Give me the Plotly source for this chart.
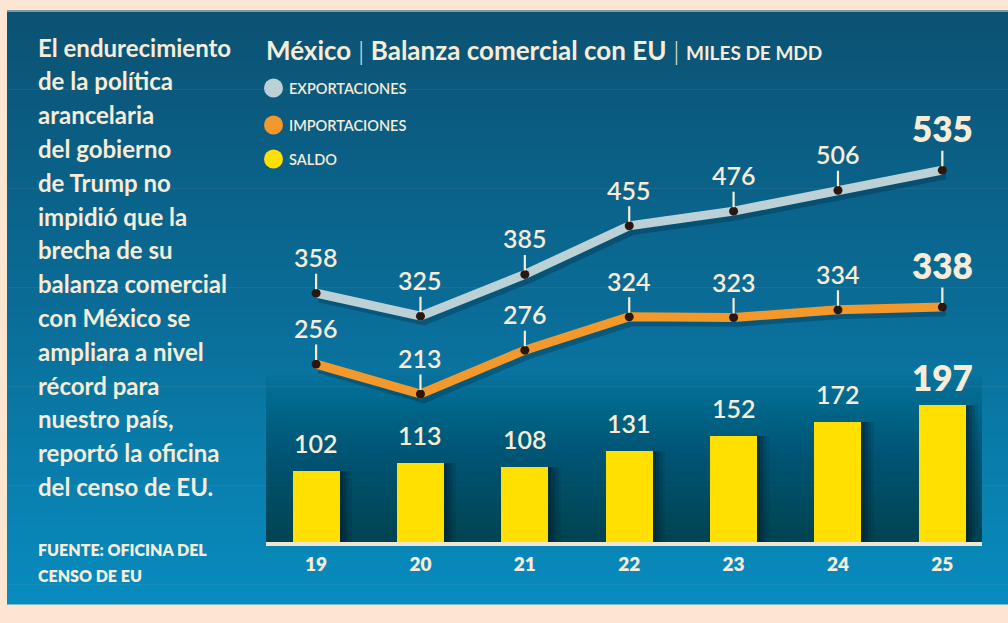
import plotly.graph_objects as go

# ---------------- data ----------------
YEARS = ["19", "20", "21", "22", "23", "24", "25"]
EXPORTACIONES = [358, 325, 385, 455, 476, 506, 535]
IMPORTACIONES = [256, 213, 276, 324, 323, 334, 338]
SALDO = [102, 113, 108, 131, 152, 172, 197]

TITLE_MAIN = "México"
TITLE_SUB = "Balanza comercial con EU"
TITLE_UNIT = "MILES DE MDD"
LEGEND_NAMES = ["EXPORTACIONES", "IMPORTACIONES", "SALDO"]
SIDE_TEXT = [
    "El endurecimiento", "de la política", "arancelaria", "del gobierno",
    "de Trump no", "impidió que la", "brecha de su", "balanza comercial",
    "con México se", "ampliara a nivel", "récord para", "nuestro país,",
    "reportó la oficina", "del censo de EU.",
]
SOURCE_TEXT = ["FUENTE: OFICINA DEL", "CENSO DE EU"]

# ---------------- styling ----------------
WIDTH, HEIGHT = 1008, 623
L, R, T, B = 266, 982, 30, 542          # plot area in pixels
PW, PH = R - L, B - T
YMAX = PH / 0.695
FONT = "Lato"
CREAM = "#f6ecd8"
C_EXP = "#bcd1d5"
C_IMP = "#f3982b"
C_SAL = "#ffe000"
DOT = "#2a1810"

def xp(p):
    return (p - L) / PW

def yp(p):
    return (B - p) / PH

x = list(range(len(YEARS)))
fig = go.Figure()

# ---------------- background shapes ----------------
shapes = []
shapes.append(dict(type="rect", xref="paper", yref="paper", x0=xp(-5), x1=xp(WIDTH + 5),
                   y0=yp(HEIGHT + 5), y1=yp(-5), fillcolor="#fde6d1", line_width=0, layer="below"))
stops = [(10, (11, 82, 115)), (300, (10, 108, 150)), (604, (8, 140, 191))]
def bgcol(py):
    for (ya, ca), (yb, cb) in zip(stops[:-1], stops[1:]):
        if ya <= py <= yb:
            t = (py - ya) / (yb - ya)
            return tuple(round(ca[i] + (cb[i] - ca[i]) * t) for i in range(3))
    return stops[-1][1]
N = 60
for i in range(N):
    y0 = 10 + (604 - 10) * i / N
    y1 = 10 + (604 - 10) * (i + 1) / N
    c = bgcol((y0 + y1) / 2)
    shapes.append(dict(type="rect", xref="paper", yref="paper", x0=xp(7), x1=xp(WIDTH + 5),
                       y0=yp(y1 + 0.6), y1=yp(y0), fillcolor="rgb(%d,%d,%d)" % c,
                       line_width=0, layer="below"))
shapes.append(dict(type="rect", xref="paper", yref="paper", x0=xp(7), x1=xp(WIDTH + 5),
                   y0=yp(12), y1=yp(10), fillcolor="#7f9aa3", line_width=0, layer="below"))
# dark band behind bars: stacked translucent rects from the baseline (seamless gradient)
NB = 40
for i in range(NB):
    top = 372 + (B - 372) * i / NB
    shapes.append(dict(type="rect", xref="paper", yref="paper", x0=0, x1=1,
                       y0=0, y1=yp(top), fillcolor="rgba(6,28,44,0.022)",
                       line_width=0, layer="below"))
# legend circles
for i, (cy, col) in enumerate(zip([88, 125, 159], [C_EXP, C_IMP, C_SAL])):
    shapes.append(dict(type="circle", xref="paper", yref="paper", x0=xp(264), x1=xp(283),
                       y0=yp(cy + 9.5), y1=yp(cy - 9.5), fillcolor=col, line_width=0))

# ---------------- bars (with soft shadows) ----------------
for off, alpha in [(0.12, 0.10), (0.09, 0.14), (0.06, 0.18), (0.03, 0.22)]:
    fig.add_trace(go.Bar(x=x, y=SALDO, width=0.45, offset=-0.225 + off,
                         marker=dict(color="rgba(0,18,32,%.2f)" % alpha, line_width=0),
                         hoverinfo="skip", showlegend=False))
fig.add_trace(go.Bar(x=x, y=SALDO, width=0.45, offset=-0.225, name=LEGEND_NAMES[2],
                     marker=dict(color=C_SAL, line_width=0), showlegend=False))

# ---------------- lines (with shadows) ----------------
for ys in (EXPORTACIONES, IMPORTACIONES):
    fig.add_trace(go.Scatter(x=[v + 0.03 for v in x], y=[v - 6 for v in ys], mode="lines",
                             line=dict(color="rgba(0,20,35,0.25)", width=10),
                             hoverinfo="skip", showlegend=False))
fig.add_trace(go.Scatter(x=x, y=EXPORTACIONES, mode="lines+markers", name=LEGEND_NAMES[0],
                         line=dict(color=C_EXP, width=9),
                         marker=dict(color=DOT, size=9), showlegend=False))
fig.add_trace(go.Scatter(x=x, y=IMPORTACIONES, mode="lines+markers", name=LEGEND_NAMES[1],
                         line=dict(color=C_IMP, width=9),
                         marker=dict(color=DOT, size=9), showlegend=False))

# ---------------- annotations ----------------
ann = []
last = len(YEARS) - 1
for ys in (EXPORTACIONES, IMPORTACIONES):
    for i, v in enumerate(ys):
        big = i == last
        ann.append(dict(x=x[i], y=v, xref="x", yref="y", text=str(v), showarrow=True,
                        ax=0, ay=-42 if big else -36, arrowhead=0, arrowwidth=2.2,
                        arrowcolor=CREAM, standoff=4,
                        font=dict(family=FONT, size=35 if big else 25, color=CREAM,
                                  weight=800 if big else 600)))
for i, v in enumerate(SALDO):
    big = i == last
    ann.append(dict(x=x[i], y=v, xref="x", yref="y", text=str(v), showarrow=False,
                    yshift=28,
                    font=dict(family=FONT, size=35 if big else 25, color=CREAM,
                              weight=800 if big else 600)))

# side text
for i, line in enumerate(SIDE_TEXT):
    ann.append(dict(x=xp(36), y=yp(47 + 33.8 * i), xref="paper", yref="paper",
                    xanchor="left", yanchor="middle", showarrow=False, text=line,
                    font=dict(family=FONT, size=24, color=CREAM, weight=700)))
for i, line in enumerate(SOURCE_TEXT):
    ann.append(dict(x=xp(36), y=yp(549 + 26 * i), xref="paper", yref="paper",
                    xanchor="left", yanchor="middle", showarrow=False, text=line,
                    font=dict(family=FONT, size=16, color=CREAM, weight=800)))

# title
title = ("<b>%s</b> <span style='font-weight:300'>|</span> <b>%s</b> "
         "<span style='font-weight:300'>|</span> <b><span style='font-size:19px'>%s</span></b>"
         % (TITLE_MAIN, TITLE_SUB, TITLE_UNIT))
ann.append(dict(x=xp(264), y=yp(50), xref="paper", yref="paper", xanchor="left",
                yanchor="middle", showarrow=False, text=title,
                font=dict(family=FONT, size=26, color=CREAM)))
# legend texts
for cy, name in zip([88, 125, 159], LEGEND_NAMES):
    ann.append(dict(x=xp(287), y=yp(cy), xref="paper", yref="paper", xanchor="left",
                    yanchor="middle", showarrow=False, text=name,
                    font=dict(family=FONT, size=14.5, color=CREAM, weight=600)))

fig.update_layout(
    width=WIDTH, height=HEIGHT,
    margin=dict(l=L, r=WIDTH - R, t=T, b=HEIGHT - B, pad=0),
    paper_bgcolor="#fde6d1", plot_bgcolor="rgba(0,0,0,0)",
    barmode="overlay", bargap=0, showlegend=False,
    shapes=shapes, annotations=ann,
    xaxis=dict(range=[-0.48, 6.38], tickvals=x, ticktext=YEARS, showgrid=False,
               zeroline=False, showline=True, linecolor="#f1e6d2", linewidth=4,
               ticks="", ticklabelstandoff=2,
               tickfont=dict(family=FONT, size=19, color=CREAM, weight=800)),
    yaxis=dict(range=[0, YMAX], visible=False, showgrid=False, zeroline=False),
)

fig.write_html("out.html", config={"displayModeBar": False},
               post_script="document.body.style.margin='0';document.body.style.overflow='hidden';")
